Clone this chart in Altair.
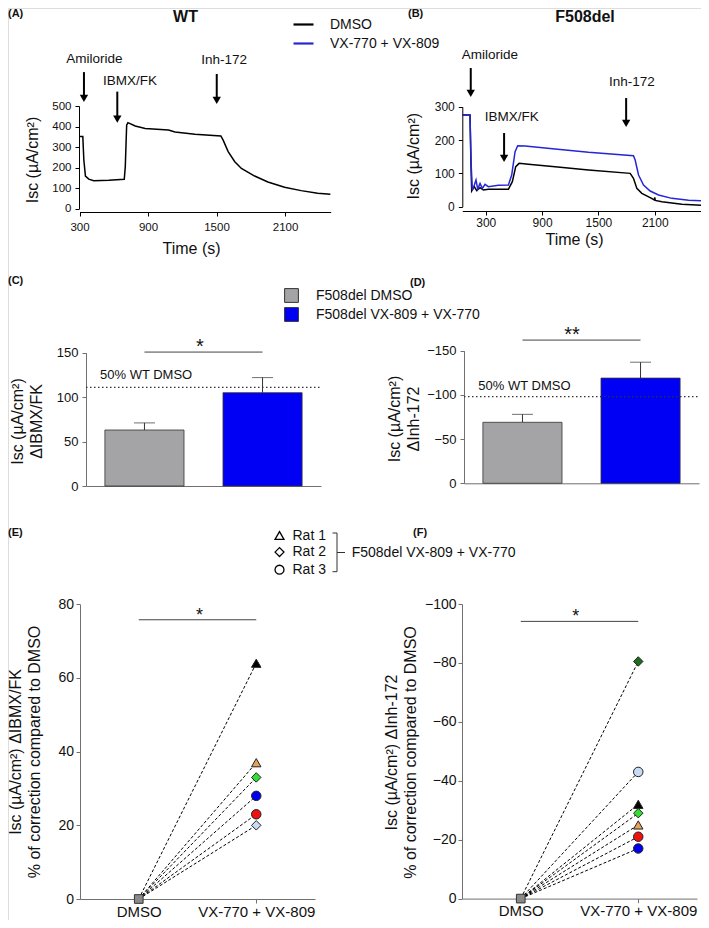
import altair as alt
import pandas as pd

W, H = 693, 912
FONT = "Liberation Sans"
INK = "#111111"
GREY_AX = "#707070"
TRACE_BLUE = "#2626d9"

# ---------------- data ----------------
# (A) WT, DMSO trace
a_time = [300, 329, 338, 352, 381, 425, 556, 692, 701, 713, 724, 788, 875, 1079, 1137,
          1311, 1538, 1558, 1602, 1660, 1718, 1834, 1950, 2096, 2241, 2386, 2497]
a_isc = [351, 351, 237, 159, 144, 136, 138, 143, 205, 407, 419, 403, 391, 383, 373,
         362, 354, 334, 278, 229, 196, 159, 130, 104, 88, 75, 70]
a_events = ["Amiloride", "IBMX/FK", "Inh-172"]
a_event_t = [339, 631, 1502]
a_arrow_top = [665, 570, 656]
a_arrow_tip = [520, 419, 510]
a_label_t = [431, 742, 1566]
a_label_v = [727, 622, 724]

# (B) F508del traces
series_names = ["DMSO", "VX-770 + VX-809"]
b_time_dmso = [50, 132, 143, 150, 178, 203, 239, 274, 328, 541, 583, 619, 655, 754, 1038,
               1394, 1838, 1873, 1909, 1962, 2051, 2097, 2100, 2105, 2176, 2389, 2670]
b_isc_dmso = [275, 275, 120, 47, 60, 48, 57, 50, 52, 52, 75, 120, 130, 127, 120,
              110, 100, 85, 55, 40, 27, 20, 28, 19, 15, 7, 3]
b_time_vx = [50, 132, 143, 157, 178, 196, 214, 239, 264, 292, 328, 434, 541, 576, 612, 640,
             719, 1038, 1394, 1873, 1891, 1927, 1980, 2051, 2140, 2282, 2460, 2670]
b_isc_vx = [275, 275, 135, 50, 65, 80, 53, 70, 55, 67, 60, 64, 65, 95, 165, 183,
            182, 173, 163, 153, 140, 95, 65, 47, 35, 25, 19, 17]
b_events = ["Amiloride", "IBMX/FK", "Inh-172"]
b_event_t = [140, 495, 1795]
b_arrow_top = [416, 221, 326]
b_arrow_tip = [329, 134, 239]
b_label_t = [345, 577, 1856]
b_label_v = [455, 269, 374]

# (C)/(D) bars
bar_groups = ["F508del DMSO", "F508del VX-809 + VX-770"]
bar_colors = ["#a4a4a7", "#0000f5"]
c_mean = [63, 105]
c_err = [71, 122]
c_wt50 = 111
c_sig = 150.7
d_mean = [-69, -119]
d_err = [-78, -137]
d_wt50 = -98
d_sig = -162

# (E)/(F) paired points
cond_labels = ["DMSO", "VX-770 + VX-809"]
rats = ["Rat 1", "Rat 2", "Rat 3"]
rat_shapes = ["triangle-up", "diamond", "circle"]
e_rat = ["Rat 1", "Rat 1", "Rat 2", "Rat 3", "Rat 3", "Rat 2"]
e_vals = [64, 37, 33, 28, 23, 20]
e_fill = ["#000000", "#e9a25a", "#33dd33", "#0000ee", "#ee1111", "#c7dcf3"]
e_sig = 75.8
f_rat = ["Rat 2", "Rat 3", "Rat 1", "Rat 2", "Rat 1", "Rat 3", "Rat 3"]
f_vals = [-80.5, -43, -32, -29, -25, -21, -17]
f_fill = ["#1f6b1f", "#c7dcf3", "#000000", "#33dd33", "#e9a25a", "#ee1111", "#0000ee"]
f_sig = -94.1
dmso_baseline = 0

one = pd.DataFrame({"k": [0]})


def make_axis(orient, offset, color, label_size, tick_size=4, label_pad=4, **kw):
    return alt.Axis(orient=orient, offset=offset, grid=False, domainColor=color,
                    tickColor=color, domainWidth=1, tickWidth=1, tickSize=tick_size,
                    labelPadding=label_pad, labelFont=FONT, labelFontSize=label_size,
                    labelColor=INK, titleFont=FONT, titleFontSize=16,
                    titleFontWeight="normal", titleColor=INK, **kw)


def label(text, x, y, size=11, bold=True, align="left", baseline="middle"):
    return alt.Chart(one).mark_text(
        text=text, font=FONT, fontSize=size, fontWeight="bold" if bold else "normal",
        align=align, baseline=baseline, color=INK
    ).encode(x=alt.value(x), y=alt.value(y))


def seg(x, y, x2=None, y2=None, color=INK, width=1):
    enc = dict(x=alt.value(x), y=alt.value(y))
    if x2 is not None:
        enc["x2"] = alt.value(x2)
    if y2 is not None:
        enc["y2"] = alt.value(y2)
    return alt.Chart(one).mark_rule(color=color, strokeWidth=width).encode(**enc)


def arrows(df, sx, sy):
    shaft = alt.Chart(df).mark_rule(color="black", strokeWidth=2, y2Offset=-5).encode(
        x=alt.X("t:Q", scale=sx, axis=None),
        y=alt.Y("top:Q", scale=sy, axis=None),
        y2="tip:Q")
    head = alt.Chart(df).mark_point(shape="triangle-down", filled=True, color="black",
                                    size=70, opacity=1, yOffset=-3.6).encode(
        x=alt.X("t:Q", scale=sx, axis=None),
        y=alt.Y("tip:Q", scale=sy, axis=None))
    txt = alt.Chart(df).mark_text(font=FONT, fontSize=13.5, color=INK,
                                  baseline="middle").encode(
        x=alt.X("lt:Q", scale=sx, axis=None),
        y=alt.Y("lv:Q", scale=sy, axis=None),
        text="event:N")
    return [shaft, head, txt]


layers = []

# ---------------- Panel A ----------------
sA_x = alt.Scale(domain=[300, 2500], range=[71.5, 322.7], nice=False, zero=False)
sA_y = alt.Scale(domain=[0, 500], range=[200.7, 98], nice=False, zero=False)
axA_x = make_axis("bottom", 204 - H, "black", 11.5, label_pad=5,
                  values=[300, 900, 1500, 2100], labelFlush=False, format="d",
                  title="Time (s)", titleX=183, titleY=28, titleBaseline="top")
axA_y = make_axis("left", -71, "black", 11.5, values=[0, 100, 200, 300, 400, 500],
                  title="Isc (µA/cm²)", titleX=-39, titleY=151.5,
                  titleBaseline="bottom", titleAlign="center")
dfA = pd.DataFrame({"t": a_time, "isc": a_isc})
layers.append(alt.Chart(dfA).mark_line(color="black", strokeWidth=1.5).encode(
    x=alt.X("t:Q", scale=sA_x, axis=axA_x),
    y=alt.Y("isc:Q", scale=sA_y, axis=axA_y)))
dfA_ev = pd.DataFrame({"event": a_events, "t": a_event_t, "top": a_arrow_top,
                       "tip": a_arrow_tip, "lt": a_label_t, "lv": a_label_v})
layers += arrows(dfA_ev, sA_x, sA_y)

# ---------------- Panel B ----------------
sB_x = alt.Scale(domain=[50, 2670], range=[454.3, 700.3], nice=False, zero=False)
sB_y = alt.Scale(domain=[0, 300], range=[198.7, 98.7], nice=False, zero=False)
axB_x = make_axis("bottom", 203 - H, "black", 12, label_pad=2,
                  values=[300, 900, 1500, 2100], labelFlush=False, format="d",
                  title="Time (s)", titleX=566, titleY=20, titleBaseline="top")
axB_y = make_axis("left", -454.3, "black", 12, values=[0, 100, 200, 300],
                  title="Isc (µA/cm²)", titleX=-40.6, titleY=147.7,
                  titleBaseline="bottom", titleAlign="center")
dfB = pd.DataFrame({
    "t": b_time_dmso + b_time_vx,
    "isc": b_isc_dmso + b_isc_vx,
    "series": [series_names[0]] * len(b_time_dmso) + [series_names[1]] * len(b_time_vx),
})
legB = alt.Legend(orient="none", legendX=284, legendY=5, title=None,
                  symbolType="stroke", symbolSize=400, symbolStrokeWidth=2.2,
                  labelFont=FONT, labelFontSize=14, labelColor=INK, labelOffset=15,
                  rowPadding=0, padding=0, labelLimit=300)
layers.append(alt.Chart(dfB).mark_line(strokeWidth=1.5).encode(
    x=alt.X("t:Q", scale=sB_x, axis=axB_x),
    y=alt.Y("isc:Q", scale=sB_y, axis=axB_y),
    color=alt.Color("series:N", scale=alt.Scale(domain=series_names,
                                                range=["black", TRACE_BLUE]),
                    legend=legB)))
dfB_ev = pd.DataFrame({"event": b_events, "t": b_event_t, "top": b_arrow_top,
                       "tip": b_arrow_tip, "lt": b_label_t, "lv": b_label_v})
layers += arrows(dfB_ev, sB_x, sB_y)


# ---------------- Panels C and D (bars) ----------------
def bar_panel(mean, err, wt50, sig, stars, x0, x1, ybase, ytop, ydomain, yvalues,
              ytitle, titleX, titleY, txt_x, txt_v, star_x, legend, label_size=13):
    sx = alt.Scale(type="band", domain=bar_groups, range=[x0, x1],
                   paddingInner=0.33, paddingOuter=0.16)
    sy = alt.Scale(domain=ydomain, range=[ybase, ytop], nice=False, zero=False)
    ax_x = make_axis("bottom", ybase - H, GREY_AX, 12, labels=False, ticks=False,
                     title=None)
    ax_y = make_axis("left", -x0, GREY_AX, label_size, values=yvalues,
                     title=ytitle, titleX=titleX, titleY=titleY, titleLineHeight=19,
                     titleBaseline="bottom", titleAlign="center")
    df = pd.DataFrame({"group": bar_groups, "mean": mean, "err": err})
    out = []
    out.append(alt.Chart(df).mark_rule(color="#333333", strokeWidth=1).encode(
        x=alt.X("group:N", scale=sx, axis=None),
        y=alt.Y("mean:Q", scale=sy, axis=None), y2="err:Q"))
    out.append(alt.Chart(df).mark_tick(color="#333333", size=21, thickness=1).encode(
        x=alt.X("group:N", scale=sx, axis=None),
        y=alt.Y("err:Q", scale=sy, axis=None)))
    out.append(alt.Chart(df).mark_bar(stroke="#333333", strokeWidth=0.8, opacity=1).encode(
        x=alt.X("group:N", scale=sx, axis=ax_x),
        y=alt.Y("mean:Q", scale=sy, axis=ax_y),
        y2=alt.datum(0),
        color=alt.Color("group:N", scale=alt.Scale(domain=bar_groups, range=bar_colors),
                        legend=legend)))
    dref = pd.DataFrame({"v": [wt50], "tv": [txt_v]})
    out.append(alt.Chart(dref).mark_rule(color="#333333", strokeWidth=1.2,
                                         strokeDash=[1.5, 2.5]).encode(
        x=alt.value(x0), x2=alt.value(x1),
        y=alt.Y("v:Q", scale=sy, axis=None)))
    out.append(alt.Chart(dref).mark_text(text="50% WT DMSO", font=FONT, fontSize=13,
                                         align="left", baseline="middle",
                                         color=INK).encode(
        x=alt.value(txt_x), y=alt.Y("tv:Q", scale=sy, axis=None)))
    dsig = pd.DataFrame({"a": [bar_groups[0]], "b": [bar_groups[1]], "v": [sig]})
    out.append(alt.Chart(dsig).mark_rule(color="#444444", strokeWidth=1).encode(
        x=alt.X("a:N", scale=sx, axis=None), x2="b:N",
        y=alt.Y("v:Q", scale=sy, axis=None)))
    out.append(alt.Chart(dsig).mark_text(text=stars, font=FONT, fontSize=20,
                                         align="center", baseline="alphabetic",
                                         color=INK, dy=1).encode(
        x=alt.value(star_x), y=alt.Y("v:Q", scale=sy, axis=None)))
    return out


legC = alt.Legend(orient="none", legendX=276, legendY=280, title=None,
                  symbolType="square", symbolSize=190, symbolStrokeColor="#333333",
                  symbolStrokeWidth=1, labelFont=FONT, labelFontSize=14,
                  labelColor=INK, labelOffset=17, rowPadding=0, padding=0,
                  labelLimit=300)

layers += bar_panel(c_mean, c_err, c_wt50, c_sig, "*", 78, 313, 478, 344.7, [0, 150],
                    [0, 50, 100, 150], ["Isc (µA/cm²)", "ΔIBMX/FK"], -61, 413,
                    92, 124.9, 192, legC)
layers += bar_panel(d_mean, d_err, d_wt50, d_sig, "**", 456, 691, 475.3, 342.7,
                    [0, -150], [0, -50, -100, -150], ["Isc (µA/cm²)", "ΔInh-172"],
                    -62, 410.5, 470.3, -110, 564, None)


# ---------------- Panels E and F (paired points) ----------------
def paired_panel(rat, vals, fills, sig, x0, x1, ybase, ytop, ydomain, yvalues, ytitle,
                 titleX, titleY, star_x, legend, label_pad):
    sx = alt.Scale(type="point", domain=cond_labels, range=[x0, x1], padding=0.5)
    sy = alt.Scale(domain=ydomain, range=[ybase, ytop], nice=False, zero=False)
    ax_x = make_axis("bottom", ybase - H, GREY_AX, 15, label_pad=1, title=None,
                     labelAngle=0, labelBaseline="top", labelAlign="center")
    ax_y = make_axis("left", -x0, GREY_AX, 14, label_pad=label_pad, values=yvalues,
                     title=ytitle, titleX=titleX, titleY=titleY, titleLineHeight=19,
                     titleBaseline="bottom", titleAlign="center")
    rows = []
    for i, (r, v, c) in enumerate(zip(rat, vals, fills)):
        rows.append({"id": i, "cond": cond_labels[0], "value": dmso_baseline,
                     "rat": r, "fill": c})
        rows.append({"id": i, "cond": cond_labels[1], "value": v, "rat": r, "fill": c})
    df = pd.DataFrame(rows)
    dvx = df[df["cond"] == cond_labels[1]]
    ddm = pd.DataFrame({"cond": [cond_labels[0]], "value": [dmso_baseline]})
    out = []
    out.append(alt.Chart(df).mark_line(color="black", strokeWidth=1,
                                       strokeDash=[3, 2]).encode(
        x=alt.X("cond:N", scale=sx, axis=ax_x),
        y=alt.Y("value:Q", scale=sy, axis=ax_y),
        detail="id:N"))
    out.append(alt.Chart(ddm).mark_point(shape="square", filled=True, fill="#8a8a8a",
                                         stroke="#333333", strokeWidth=1, size=75,
                                         opacity=1).encode(
        x=alt.X("cond:N", scale=sx, axis=None),
        y=alt.Y("value:Q", scale=sy, axis=None)))
    shape_kw = dict(scale=alt.Scale(domain=rats, range=rat_shapes))
    if legend is not None:
        shape_kw["legend"] = legend
    else:
        shape_kw["legend"] = None
    out.append(alt.Chart(dvx).mark_point(filled=True, size=90, stroke="#222222",
                                         strokeWidth=1, opacity=1).encode(
        x=alt.X("cond:N", scale=sx, axis=None),
        y=alt.Y("value:Q", scale=sy, axis=None),
        shape=alt.Shape("rat:N", **shape_kw),
        fill=alt.Fill("fill:N", scale=None)))
    dsig = pd.DataFrame({"a": [cond_labels[0]], "b": [cond_labels[1]], "v": [sig]})
    out.append(alt.Chart(dsig).mark_rule(color="#444444", strokeWidth=1).encode(
        x=alt.X("a:N", scale=sx, axis=None), x2="b:N",
        y=alt.Y("v:Q", scale=sy, axis=None)))
    out.append(alt.Chart(dsig).mark_text(text="*", font=FONT, fontSize=18,
                                         align="center", baseline="alphabetic",
                                         color=INK, dy=1).encode(
        x=alt.value(star_x), y=alt.Y("v:Q", scale=sy, axis=None)))
    return out


legE = alt.Legend(orient="none", legendX=264.5, legendY=520.5, title=None,
                  symbolSize=80, symbolFillColor="white", symbolStrokeColor="black",
                  symbolStrokeWidth=1.3, labelFont=FONT, labelFontSize=14,
                  labelColor=INK, labelOffset=6, rowPadding=1.6, padding=0)

layers += paired_panel(e_rat, e_vals, e_fill, e_sig, 72, 307, 891, 596.3, [0, 80],
                       [0, 20, 40, 60, 80],
                       ["Isc (µA/cm²) ΔIBMX/FK", "% of correction compared to DMSO"],
                       -57, 743.5, 191.5, legE, 2.5)
layers += paired_panel(f_rat, f_vals, f_fill, f_sig, 454, 689, 890.6, 596, [0, -100],
                       [0, -20, -40, -60, -80, -100],
                       ["Isc (µA/cm²) ΔInh-172", "% of correction compared to DMSO"],
                       -63, 744, 567.7, None, 2)

# ---------------- titles, panel letters, bracket ----------------
layers += [
    label("WT", 177.5, 8.5, size=16, align="center"),
    label("F508del", 577, 9, size=16, align="center"),
    label("(A)", 0, 5.5),
    label("(B)", 400, 5.5),
    label("(C)", 0, 273),
    label("(D)", 402, 275),
    label("(E)", 0, 524.5),
    label("(F)", 405, 525),
    seg(329, 525, y2=563.7, color="#333333"),
    seg(324.5, 525, x2=329, color="#333333"),
    seg(324.5, 563.7, x2=329, color="#333333"),
    seg(329, 544.5, x2=337, color="#333333"),
    label("F508del VX-809 + VX-770", 343.7, 544.5, size=14, bold=False),
]

chart = alt.layer(*layers).resolve_scale(
    x="independent", y="independent", color="independent", shape="independent"
).resolve_axis(
    x="independent", y="independent"
).resolve_legend(
    color="independent", shape="independent"
).properties(
    width=W, height=H, padding=0, autosize=alt.AutoSizeParams(type="none")
).configure_view(stroke=None).configure(font=FONT)

chart.save("out.html", embed_options={"renderer": "svg", "actions": False})
